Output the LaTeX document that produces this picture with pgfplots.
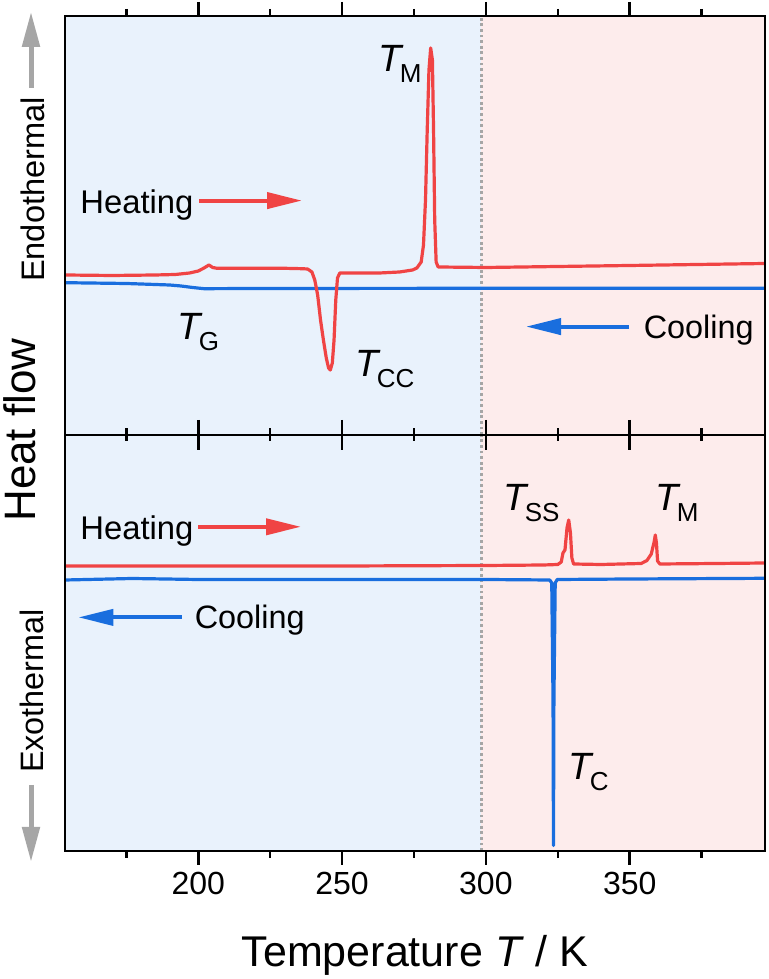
\documentclass[border=0pt]{standalone}
\usepackage{fontspec}
\setmainfont{Liberation Sans}
\usepackage{pgfplots}
\pgfplotsset{compat=1.18}
\usetikzlibrary{arrows.meta}
\definecolor{cred}{RGB}{240,68,68}
\definecolor{cblue}{RGB}{25,110,222}
\definecolor{bgblue}{RGB}{233,242,252}
\definecolor{bgred}{RGB}{253,236,236}
\definecolor{cgray}{RGB}{166,166,166}
\newcommand{\Tl}[1]{{\fontsize{19}{19}\selectfont\itshape T}\kern-0.9pt\raisebox{-5.5pt}{\fontsize{13}{13}\selectfont #1}}
\pgfplotsset{
  dsc/.style={scale only axis, width=350pt, xmin=153.65, xmax=397.05,
    ytick=\empty, xtick={200,250,300,350}, minor xtick={175,225,275,325,375},
    axis line style={line width=1.25pt, black},
    major tick length=7pt, minor tick length=3.5pt,
    tick style={line width=1.25pt, black},
    tick align=outside, axis on top, clip=true},
  cur/.style={line width=1.6pt, line join=round, mark=none},
  dotl/.style={cgray, line width=1.4pt, dash pattern=on 1.4pt off 1.4pt},
}
\begin{document}
\begin{tikzpicture}
\useasboundingbox (0,0) rectangle (384.5pt,489.5pt);
% top panel
\begin{axis}[dsc, at={(32.5pt,272pt)}, anchor=south west, height=209.5pt,
  ymin=0, ymax=419, xtick pos=top, xticklabels={}]
\fill[bgblue] (axis cs:153.65,0) rectangle (axis cs:298.4,419);
\fill[bgred] (axis cs:298.4,0) rectangle (axis cs:397.05,419);
\addplot[dotl] coordinates {(298.4,0) (298.4,419)};
\addplot[cur, cblue] coordinates {(153.65,152.3) (175,151.5) (190,150) (194,149) (198,147.5) (202,146.3) (220,146.5) (300,146.7) (397.05,146.7)};
\addplot[cur, cred] coordinates {(153.65,160) (170,159.5) (185,160) (192,160.5) (197,162) (200,164) (202,167) (203.7,170) (205,167.5) (206.5,166.7) (215,166.7) (230,166.7) (236,166.3) (238,166) (239.5,163) (240.5,155) (241.5,140) (242.5,115) (243.5,95) (244.5,77) (245.3,67) (245.9,65) (246.6,72) (247.2,95) (247.8,135) (248.4,157) (249.2,162) (250,162) (263,162) (270,163) (274.5,165) (276,167) (277.5,173) (278.3,190) (279,235) (279.6,305) (280.2,365) (280.8,387) (281.4,375) (281.8,305) (282.2,215) (282.7,173) (283.4,168) (300,167.5) (350,169.5) (397.05,171.5)};
\end{axis}
% bottom panel
\begin{axis}[dsc, at={(32.5pt,64pt)}, anchor=south west, height=208pt,
  ymin=0, ymax=416, xtick pos=bottom,
  /pgf/number format/assume math mode=true,
  xticklabel style={font=\fontsize{16}{16}\selectfont}]
\fill[bgblue] (axis cs:153.65,0) rectangle (axis cs:298.4,416);
\fill[bgred] (axis cs:298.4,0) rectangle (axis cs:397.05,416);
\addplot[dotl] coordinates {(298.4,0) (298.4,416)};
\addplot[cur, cred] coordinates {(153.65,285) (250,285) (300,285.5) (320,286) (325,286.5) (326.2,289) (326.8,298) (327.5,301) (328.2,323) (328.8,331) (329.4,318) (329.9,293) (330.5,287) (340,286.5) (354,287.5) (356,290.5) (357.5,297) (358.5,309) (358.9,316) (359.3,308) (359.7,290) (360.5,287) (380,287.5) (397.05,288)};
\addplot[cur, cblue] coordinates {(153.65,271) (177,272.5) (200,271.5) (250,271.5) (300,271.5) (322.2,271) (322.9,268) (323.35,150) (323.5,5.5) (323.65,150) (324.1,268) (324.8,271.5) (350,272) (397.05,272.7)};
\end{axis}
% middle ticks overlay
\begin{axis}[dsc, at={(32.5pt,64pt)}, anchor=south west, height=208pt,
  ymin=0, ymax=416, xtick pos=top, tick align=center,
  major tick length=15pt, minor tick length=6.5pt, xticklabels={}]
\end{axis}
% annotations
\node[anchor=base west, inner sep=0pt] at (189pt,453.5pt) {\Tl{M}};
\node[anchor=base west, inner sep=0pt] at (88.5pt,319.5pt) {\Tl{G}};
\node[anchor=base west, inner sep=0pt] at (177.5pt,301pt) {\Tl{CC}};
\node[anchor=base west, inner sep=0pt] at (251.5pt,234pt) {\Tl{SS}};
\node[anchor=base west, inner sep=0pt] at (327.5pt,234pt) {\Tl{M}};
\node[anchor=base west, inner sep=0pt] at (284pt,99.5pt) {\Tl{C}};
\node[anchor=base west, inner sep=0pt, font=\fontsize{16.4}{16.4}\selectfont] at (40pt,382.8pt) {Heating};
\node[anchor=base west, inner sep=0pt, font=\fontsize{16.4}{16.4}\selectfont] at (40pt,219.5pt) {Heating};
\node[anchor=base west, inner sep=0pt, font=\fontsize{16.2}{16.2}\selectfont] at (321.7pt,320.3pt) {Cooling};
\node[anchor=base west, inner sep=0pt, font=\fontsize{16.2}{16.2}\selectfont] at (97.2pt,175.1pt) {Cooling};
\draw[cred, line width=2pt, -{Triangle[length=17.5pt,width=8pt]}] (99.5pt,389.2pt) -- (151pt,389.2pt);
\draw[cred, line width=2pt, -{Triangle[length=17.5pt,width=8pt]}] (99pt,226.1pt) -- (150.5pt,226.1pt);
\draw[cblue, line width=2pt, -{Triangle[length=17.5pt,width=8pt]}] (314.5pt,326.2pt) -- (263pt,326.2pt);
\draw[cblue, line width=2pt, -{Triangle[length=17.5pt,width=8pt]}] (90.8pt,180.8pt) -- (39.2pt,180.8pt);
\draw[cgray, line width=2.5pt, -{Triangle[length=17.5pt,width=8.5pt]}] (15.5pt,445.5pt) -- (15.5pt,483.6pt);
\draw[cgray, line width=2.5pt, -{Triangle[length=17.5pt,width=8.5pt]}] (15.5pt,97pt) -- (15.5pt,58.5pt);
\node[anchor=base, rotate=90, inner sep=0pt, font=\fontsize{22}{22}\selectfont] at (17.5pt,274.5pt) {Heat flow};
\node[anchor=base, rotate=90, inner sep=0pt, font=\fontsize{16.3}{16.3}\selectfont] at (22pt,394.75pt) {Endothermal};
\node[anchor=base, rotate=90, inner sep=0pt, font=\fontsize{16.2}{16.2}\selectfont] at (21.5pt,144pt) {Exothermal};
\node[anchor=base, inner sep=0pt, font=\fontsize{21.5}{21.5}\selectfont] at (207.5pt,6pt) {Temperature \textit{T} / K};
\end{tikzpicture}
\end{document}
